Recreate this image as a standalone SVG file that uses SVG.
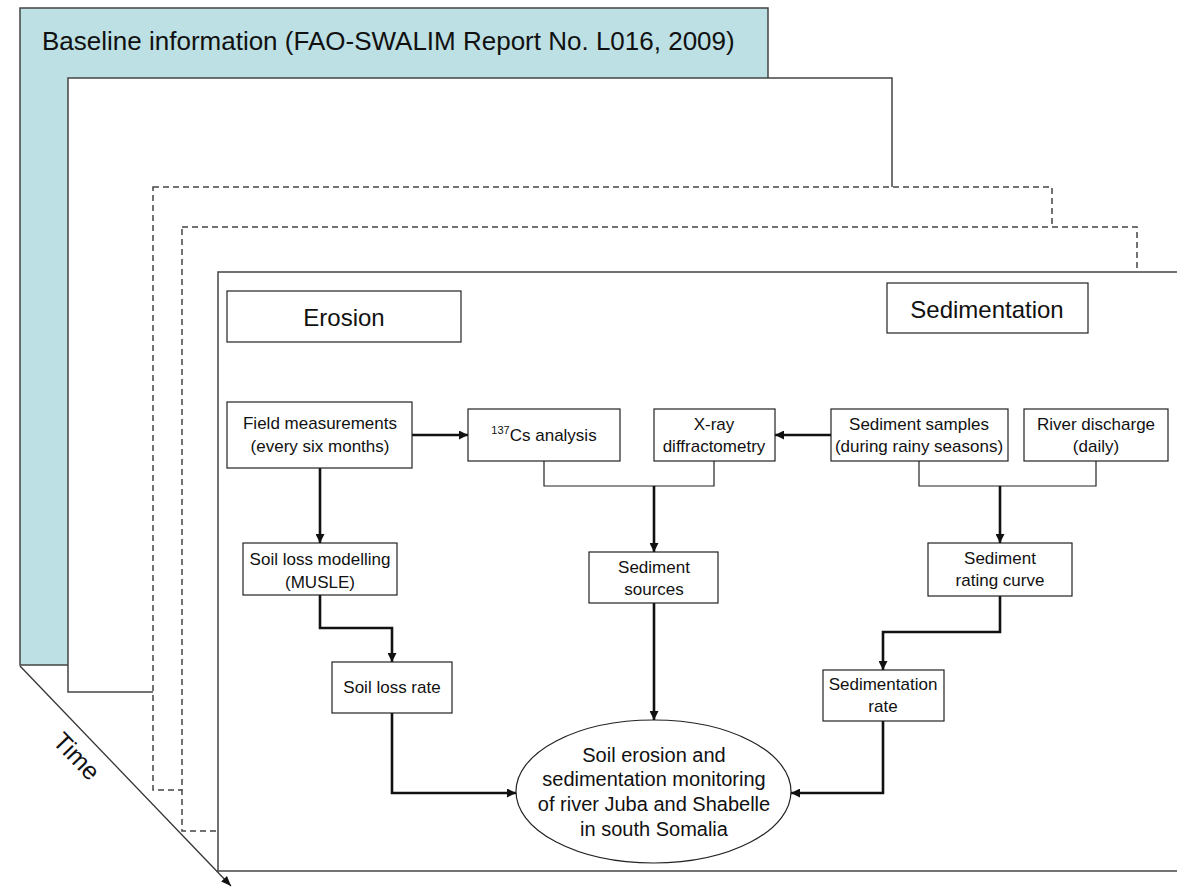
<svg xmlns="http://www.w3.org/2000/svg" width="1177" height="888" viewBox="0 0 1177 888">
<style>
text{font-family:"Liberation Sans",Arial,sans-serif;fill:#111}
.n{font-size:17px}
.h{font-size:24px}
.box{fill:#fff;stroke:#222;stroke-width:1.2}
.layer{fill:#fff;stroke:#444;stroke-width:1.5}
.dash{stroke-dasharray:6 4}
.thin{fill:none;stroke:#222;stroke-width:1.2}
.thick{fill:none;stroke:#111;stroke-width:2.6}
</style>
<defs>
<marker id="ah" viewBox="0 0 10 10" refX="10" refY="5" markerWidth="9" markerHeight="9" markerUnits="userSpaceOnUse" orient="auto"><path d="M0,0 L10,5 L0,10 z" fill="#111"/></marker>
<marker id="ta" viewBox="0 0 10 10" refX="10" refY="5" markerWidth="11" markerHeight="10" markerUnits="userSpaceOnUse" orient="auto"><path d="M0,1 L10,5 L0,9 z" fill="#111"/></marker>
</defs>
<g id="layers">
<rect x="20" y="8" width="748" height="657" fill="#bce0e3" stroke="#444" stroke-width="1.5"/>
<text x="42" y="50" font-size="26">Baseline information (FAO-SWALIM Report No. L016, 2009)</text>
<rect class="layer" x="68" y="78" width="824" height="614"/>
<rect class="layer dash" x="153" y="187" width="899" height="603" stroke="#333" stroke-width="1.2"/>
<rect class="layer dash" x="182" y="227" width="955" height="604" stroke="#333" stroke-width="1.2"/>
<rect class="layer" x="218" y="272" width="980" height="599"/>
</g>
<g id="time">
<line x1="20" y1="666" x2="231" y2="886" stroke="#333" stroke-width="1.3" marker-end="url(#ta)"/>
<text transform="translate(77,756) rotate(46)" y="9" text-anchor="middle" font-size="25">Time</text>
</g>
<g id="erosion"><rect class="box" x="227" y="291" width="234" height="51"/><text class="h" x="344" y="326" text-anchor="middle">Erosion</text></g>
<g id="sedimentation"><rect class="box" x="887" y="283" width="201" height="50"/><text class="h" x="987" y="318" text-anchor="middle">Sedimentation</text></g>
<g id="connectors">
<line class="thick" x1="412" y1="435" x2="468" y2="435" marker-end="url(#ah)"/>
<line class="thick" x1="831" y1="435" x2="775" y2="435" marker-end="url(#ah)"/>
<polyline class="thin" points="544,461 544,486 714,486 714,461"/>
<line class="thick" x1="654" y1="486" x2="654" y2="552" marker-end="url(#ah)"/>
<polyline class="thin" points="919,461 919,486 1096,486 1096,461"/>
<line class="thick" x1="1000" y1="486" x2="1000" y2="543" marker-end="url(#ah)"/>
<line class="thick" x1="320" y1="468" x2="320" y2="543" marker-end="url(#ah)"/>
<polyline class="thick" points="320,595 320,628 392,628 392,662" marker-end="url(#ah)"/>
<polyline class="thick" points="1000,596 1000,632 883,632 883,670" marker-end="url(#ah)"/>
<line class="thick" x1="654" y1="603" x2="654" y2="720" marker-end="url(#ah)"/>
<polyline class="thick" points="392,713 392,793 516,793" marker-end="url(#ah)"/>
<polyline class="thick" points="883,721 883,793 791,793" marker-end="url(#ah)"/>
</g>
<g id="field"><rect class="box" x="227" y="402" width="185" height="66"/><text class="n" x="320" y="429" text-anchor="middle">Field measurements</text><text class="n" x="320" y="452" text-anchor="middle">(every six months)</text></g>
<g id="cs"><rect class="box" x="468" y="409" width="152" height="52"/><text class="n" x="544" y="441" text-anchor="middle"><tspan font-size="11" dy="-7">137</tspan><tspan dy="7">Cs analysis</tspan></text></g>
<g id="xray"><rect class="box" x="654" y="409" width="121" height="52"/><text class="n" x="714" y="430" text-anchor="middle">X-ray</text><text class="n" x="714" y="452" text-anchor="middle">diffractometry</text></g>
<g id="samples"><rect class="box" x="831" y="409" width="177" height="52"/><text class="n" x="919" y="430" text-anchor="middle">Sediment samples</text><text class="n" x="919" y="452" text-anchor="middle">(during rainy seasons)</text></g>
<g id="river"><rect class="box" x="1024" y="409" width="144" height="52"/><text class="n" x="1096" y="430" text-anchor="middle">River discharge</text><text class="n" x="1096" y="452" text-anchor="middle">(daily)</text></g>
<g id="musle"><rect class="box" x="243" y="543" width="154" height="52" stroke-width="2.2"/><text class="n" x="320" y="565" text-anchor="middle">Soil loss modelling</text><text class="n" x="320" y="588" text-anchor="middle">(MUSLE)</text></g>
<g id="sources"><rect class="box" x="589" y="552" width="129" height="51"/><text class="n" x="654" y="573" text-anchor="middle">Sediment</text><text class="n" x="654" y="595" text-anchor="middle">sources</text></g>
<g id="rating"><rect class="box" x="928" y="543" width="144" height="53"/><text class="n" x="1000" y="564" text-anchor="middle">Sediment</text><text class="n" x="1000" y="586" text-anchor="middle">rating curve</text></g>
<g id="lossrate"><rect class="box" x="332" y="662" width="120" height="51"/><text class="n" x="392" y="693" text-anchor="middle">Soil loss rate</text></g>
<g id="sedrate"><rect class="box" x="823" y="670" width="121" height="51"/><text class="n" x="883" y="690" text-anchor="middle">Sedimentation</text><text class="n" x="883" y="712" text-anchor="middle">rate</text></g>
<g id="monitoring"><ellipse cx="653.5" cy="791.5" rx="137.5" ry="71.5" fill="#fff" stroke="#222" stroke-width="1.2"/>
<text x="654" y="762" font-size="20" text-anchor="middle">Soil erosion and</text>
<text x="654" y="786" font-size="20" text-anchor="middle">sedimentation monitoring</text>
<text x="654" y="811" font-size="20" text-anchor="middle">of river Juba and Shabelle</text>
<text x="654" y="836" font-size="20" text-anchor="middle">in south Somalia</text></g>
</svg>
